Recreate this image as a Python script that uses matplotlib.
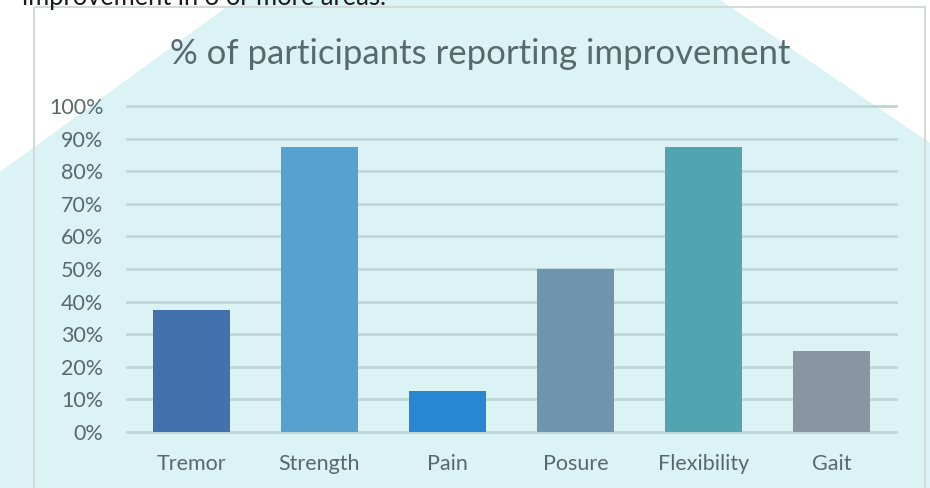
import matplotlib
matplotlib.use('Agg')
import matplotlib.pyplot as plt
from matplotlib.patches import Polygon, Rectangle
import numpy as np

categories = ['Tremor', 'Strength', 'Pain', 'Posure', 'Flexibility', 'Gait']
values = [0.375, 0.875, 0.125, 0.50, 0.875, 0.25]
bar_colors = ['#4371ad', '#57a1cf', '#2787d3', '#7094ad', '#50a5b0', '#8a95a3']
yticks = np.arange(0, 1.01, 0.1)
ytick_labels = ['%d%%' % round(t * 100) for t in yticks]

W, H = 930, 488
text_col = '#566a6c'
plt.rcParams['font.family'] = ['Lato', 'DejaVu Sans']

fig = plt.figure(figsize=(W / 100, H / 100), dpi=100)
fig.patch.set_facecolor('white')

# background layer in pixel coords (y from top)
bg = fig.add_axes([0, 0, 1, 1], zorder=-1)
bg.set_xlim(0, W)
bg.set_ylim(H, 0)
bg.axis('off')
hexagon = [(236, 0), (720, 0), (930, 143), (930, 488), (0, 488), (0, 172)]
bg.add_patch(Polygon(hexagon, closed=True, facecolor='#dcf3f5', edgecolor='none'))
bg.add_patch(Rectangle((34, 7), 925 - 34, 500, fill=False,
                       edgecolor='#d4d9d9', linewidth=1.5))
# cut-off paragraph text above the chart
bg.text(22, 5, 'improvement in 3 or more areas.', fontsize=18.4,
        color='#1c1c1c', va='baseline', ha='left')
bg.text(480, 54, '% of participants reporting improvement',
        fontsize=25, color=text_col, ha='center', va='center')

ax = fig.add_axes([127 / W, 1 - 432 / H, (896 - 127) / W, (432 - 106) / H])
ax.patch.set_alpha(0)
x = np.arange(len(categories))
ax.bar(x, values, width=0.6, color=bar_colors, zorder=3)
ax.set_xlim(-0.5, len(categories) - 0.5)
ax.set_ylim(0, 1.0)
ax.set_yticks(yticks)
ax.set_yticklabels(ytick_labels)
ax.set_xticks(x)
ax.set_xticklabels(categories)
for s in ax.spines.values():
    s.set_visible(False)
ax.tick_params(axis='y', length=0, pad=17, labelsize=15.5, labelcolor=text_col)
ax.tick_params(axis='x', length=0, pad=16, labelsize=15.5, labelcolor=text_col)
for t in yticks:
    ax.axhline(t, color='#bfd6d9', linewidth=2, zorder=1, clip_on=False)

plt.savefig('out.png', dpi=100)
